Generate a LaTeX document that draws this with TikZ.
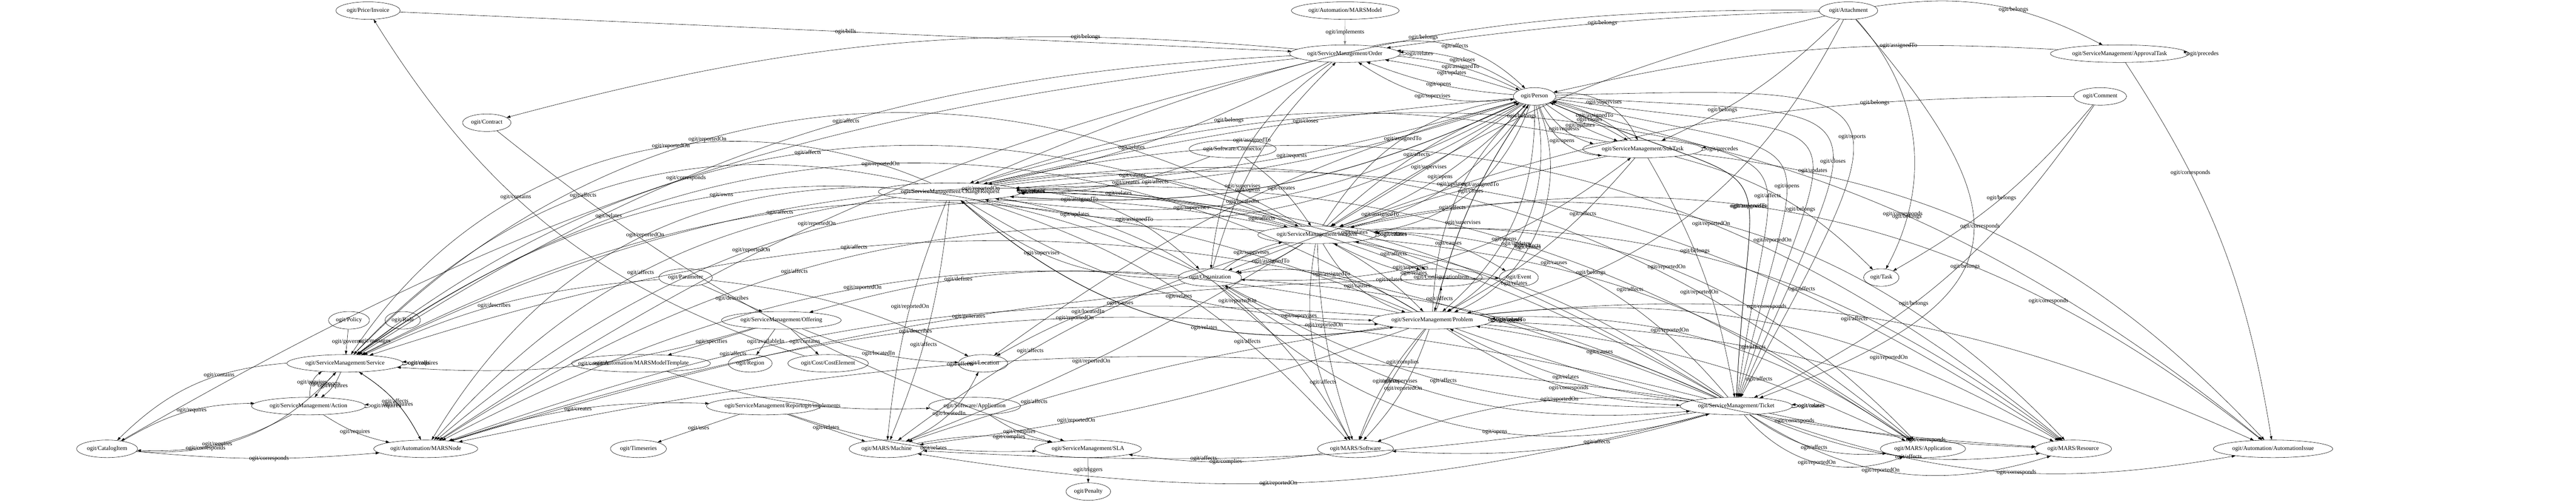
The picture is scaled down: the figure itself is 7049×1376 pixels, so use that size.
\documentclass[tikz,border=0pt]{standalone}
\usepackage{fontspec}
\setmainfont{Liberation Serif}
\usetikzlibrary{shapes.geometric,arrows.meta}

\tikzset{every picture/.style={line width=0.16pt}}
\tikzset{
  onode/.style={draw, ellipse, inner xsep=0.8pt, inner ysep=0pt, minimum height=9.6pt, font=\fontsize{3.25}{3.8}\selectfont},
  lbl/.style={inner sep=0.3pt, font=\fontsize{3.25}{3.8}\selectfont},
  every edge/.style={draw, line width=0.16pt, -{Triangle[length=2pt,width=1.35pt]}},
  every loop/.style={min distance=4.3pt, looseness=6},
}

\begin{document}
\begin{tikzpicture}[x=0.2pt,y=0.2pt,yscale=-1,xscale=1]
\path [use as bounding box, fill=white] (0,0) rectangle (7049,1376);

% Text Node
\draw (1007,29) node [onode] (inv) {ogit/Price/Invoice};
\draw (3681,29) node [onode] (mmodel) {ogit/Automation/MARSModel};
\draw (5058,29) node [onode] (attach) {ogit/Attachment};
\draw (3680,147) node [onode] (order) {ogit/ServiceManagement/Order};
\draw (5800,147) node [onode] (appr) {ogit/ServiceManagement/ApprovalTask};
\draw (4199,264) node [onode] (person) {ogit/Person};
\draw (5747,264) node [onode] (comment) {ogit/Comment};
\draw (1332,336) node [onode] (contract) {ogit/Contract};
\draw (3373,408) node [onode] (connector) {ogit/Software/Connector};
\draw (4495,408) node [onode] (subtask) {ogit/ServiceManagement/SubTask};
\draw (2600,525) node [onode] (change) {ogit/ServiceManagement/ChangeRequest};
\draw (3604,643) node [onode] (incident) {ogit/ServiceManagement/Incident};
\draw (1876,760) node [onode] (param) {ogit/Parameter};
\draw (3311,760) node [onode] (org) {ogit/Organization};
\draw (3944,760) node [onode] (ci) {ogit/ConfigurationItem};
\draw (4156,760) node [onode] (event) {ogit/Event};
\draw (5148,760) node [onode] (task) {ogit/Task};
\draw (955,877) node [onode] (policy) {ogit/Policy};
\draw (1102,877) node [onode] (role) {ogit/Role};
\draw (2138,877) node [onode] (offering) {ogit/ServiceManagement/Offering};
\draw (3919,877) node [onode] (problem) {ogit/ServiceManagement/Problem};
\draw (944,995) node [onode] (service) {ogit/ServiceManagement/Service};
\draw (1754,995) node [onode] (mtemplate) {ogit/Automation/MARSModelTemplate};
\draw (2053,995) node [onode] (region) {ogit/Region};
\draw (2266,995) node [onode] (cost) {ogit/Cost/CostElement};
\draw (2690,995) node [onode] (location) {ogit/Location};
\draw (844,1112) node [onode] (action) {ogit/ServiceManagement/Action};
\draw (2089,1112) node [onode] (report) {ogit/ServiceManagement/Report};
\draw (2667,1112) node [onode] (swapp) {ogit/Software/Application};
\draw (4751,1112) node [onode] (ticket) {ogit/ServiceManagement/Ticket};
\draw (293,1229) node [onode] (catalog) {ogit/CatalogItem};
\draw (1165,1229) node [onode] (mnode) {ogit/Automation/MARSNode};
\draw (1747,1229) node [onode] (timeseries) {ogit/Timeseries};
\draw (2426,1229) node [onode] (machine) {ogit/MARS/Machine};
\draw (2977,1229) node [onode] (sla) {ogit/ServiceManagement/SLA};
\draw (3709,1229) node [onode] (software) {ogit/MARS/Software};
\draw (5262,1229) node [onode] (application) {ogit/MARS/Application};
\draw (5673,1229) node [onode] (resource) {ogit/MARS/Resource};
\draw (6220,1229) node [onode] (issue) {ogit/Automation/AutomationIssue};
\draw (2978,1346) node [onode] (penalty) {ogit/Penalty};

% Order, attachments, comments
\draw (inv) edge node [lbl] {ogit/bills} (order);
\draw (mmodel) edge [draw=gray] node [lbl] {ogit/implements} (order);
\draw (attach) edge [bend left=3] node [lbl] {ogit/belongs} (order)
  edge [bend right=18] node [lbl, pos=0.6] {ogit/belongs} (appr)
  edge [bend right=10] node [lbl, pos=0.7] {ogit/belongs} (subtask)
  edge [bend left=12] node [lbl, pos=0.45] {ogit/belongs} (change)
  edge [bend left=10] node [lbl, pos=0.6] {ogit/belongs} (incident)
  edge [bend right=25] node [lbl, pos=0.75] {ogit/belongs} (problem)
  edge [bend right=55, looseness=1.8] node [lbl, pos=0.55] {ogit/belongs} (ticket)
  edge [bend right=35] node [lbl, pos=0.8] {ogit/belongs} (task);
\draw (appr) edge [loop right] node [lbl, anchor=west] {ogit/precedes} (appr)
  edge [bend left=8] node [lbl, pos=0.3] {ogit/assignedTo} (person)
  edge [bend right=12] node [lbl, pos=0.3] {ogit/corresponds} (issue);
\draw (comment) edge [bend left=10] node [lbl, pos=0.25] {ogit/belongs} (incident)
  edge [bend right=15] node [lbl, pos=0.6] {ogit/belongs} (ticket)
  edge [bend right=10] node [lbl, pos=0.5] {ogit/belongs} (task);
\draw (order) edge [loop right] node [lbl, anchor=west] {ogit/relates} (order)
  edge [bend left=10] node [lbl, pos=0.25] {ogit/belongs} (contract)
  edge [bend left=15] node [lbl, pos=0.45] {ogit/affects} (service)
  edge [bend left=12] node [lbl, pos=0.5] {ogit/corresponds} (catalog)
  edge [bend left=10] node [lbl, pos=0.55] {ogit/reportedOn} (mnode)
  edge [bend right=8] node [lbl, pos=0.6] {ogit/relates} (change);

% Person
\draw (person) edge [bend right=20] node [lbl] {ogit/supervises} (order)
  edge [bend right=8] node [lbl] {ogit/opens} (order)
  edge [bend left=4] node [lbl] {ogit/updates} (order)
  edge [bend left=16] node [lbl] {ogit/closes} (order);
\draw (order) edge [bend right=10] node [lbl] {ogit/assignedTo} (person)
  edge [bend right=28] node [lbl] {ogit/affects} (person);
\draw (person) edge [bend left=35] node [lbl] {ogit/opens} (subtask)
  edge [bend left=20] node [lbl] {ogit/requests} (subtask)
  edge [bend left=8] node [lbl] {ogit/updates} (subtask)
  edge [bend right=4] node [lbl] {ogit/closes} (subtask)
  edge [bend right=35] node [lbl] {ogit/supervises} (subtask);
\draw (subtask) edge [bend left=12] node [lbl] {ogit/assignedTo} (person)
  edge [loop right] node [lbl, anchor=west] {ogit/precedes} (subtask);
\draw (person) edge [bend right=22] node [lbl, pos=0.85] {ogit/updates} (change)
  edge [bend right=14] node [lbl, pos=0.55] {ogit/opens} (change)
  edge [bend right=6] node [lbl, pos=0.45] {ogit/requests} (change)
  edge [bend left=4] node [lbl, pos=0.38] {ogit/closes} (change)
  edge [bend right=18] node [lbl, pos=0.65] {ogit/supervises} (change);
\draw (change) edge [bend left=14] node [lbl, pos=0.12] {ogit/assignedTo} (person)
  edge [bend left=8] node [lbl, pos=0.25] {ogit/affects} (person);
\draw (person) edge [bend right=2] node [lbl] {ogit/supervises} (incident)
  edge [bend right=12] node [lbl] {ogit/opens} (incident)
  edge [bend right=20] node [lbl] {ogit/updates} (incident)
  edge [bend right=30] node [lbl] {ogit/closes} (incident);
\draw (incident) edge [bend right=10] node [lbl] {ogit/affects} (person)
  edge [bend right=25] node [lbl] {ogit/assignedTo} (person);
\draw (person) edge [bend right=25] node [lbl, pos=0.6] {ogit/opens} (problem)
  edge [bend right=35] node [lbl, pos=0.6] {ogit/updates} (problem)
  edge [bend right=45] node [lbl, pos=0.6] {ogit/closes} (problem)
  edge [bend left=10] node [lbl, pos=0.6] {ogit/supervises} (problem);
\draw (problem) edge [bend right=10] node [lbl, pos=0.6] {ogit/assignedTo} (person)
  edge [bend right=22] node [lbl, pos=0.45] {ogit/affects} (person);
\draw (person) edge [bend right=45, looseness=2.2] node [lbl, pos=0.6] {ogit/opens} (ticket)
  edge [bend right=50, looseness=2.4] node [lbl, pos=0.6] {ogit/updates} (ticket)
  edge [bend right=55, looseness=2.5] node [lbl, pos=0.6] {ogit/closes} (ticket)
  edge [bend right=60, looseness=2.6] node [lbl, pos=0.55] {ogit/reports} (ticket)
  edge [bend right=35, looseness=2] node [lbl, pos=0.6] {ogit/supervises} (ticket)
  edge [bend left=10] node [lbl, pos=0.5] {ogit/locatedIn} (location);
\draw (ticket) edge [bend left=35, looseness=2] node [lbl, pos=0.4] {ogit/assignedTo} (person)
  edge [bend left=40, looseness=2.1] node [lbl, pos=0.4] {ogit/affects} (person);

% Organization
\draw (org) edge [bend right=15] node [lbl, pos=0.35] {ogit/supervises} (order)
  edge [bend left=20] node [lbl, pos=0.4] {ogit/supervises} (subtask)
  edge [bend right=20] node [lbl, pos=0.6] {ogit/supervises} (change)
  edge [bend right=10] node [lbl] {ogit/supervises} (incident)
  edge [bend left=15] node [lbl] {ogit/supervises} (problem)
  edge [bend left=20] node [lbl, pos=0.4] {ogit/supervises} (ticket)
  edge [bend left=30] node [lbl, pos=0.6] {ogit/opens} (ticket)
  edge [bend left=10] node [lbl, pos=0.6] {ogit/defines} (offering)
  edge [bend left=30] node [lbl, pos=0.55] {ogit/owns} (service)
  edge [bend left=8] node [lbl, pos=0.5] {ogit/locatedIn} (location);
\draw (order) edge [bend left=25] node [lbl, pos=0.45] {ogit/assignedTo} (org);
\draw (subtask) edge [bend left=5] node [lbl, pos=0.6] {ogit/assignedTo} (org);
\draw (change) edge [bend right=20] node [lbl, pos=0.6] {ogit/assignedTo} (org);
\draw (incident) edge [bend right=10] node [lbl] {ogit/assignedTo} (org);
\draw (problem) edge [bend left=20] node [lbl] {ogit/assignedTo} (org);
\draw (ticket) edge [bend left=10] node [lbl, pos=0.45] {ogit/assignedTo} (org)
  edge [bend right=15] node [lbl, pos=0.5] {ogit/affects} (org);

% Tickets among themselves
\draw (change) edge [loop right] node [lbl, anchor=west] {ogit/relates} (change)
  edge [loop right] node [lbl, anchor=west] {ogit/causes} (change)
  edge [bend right=8] node [lbl, pos=0.35] {ogit/relates} (incident)
  edge [bend right=18] node [lbl, pos=0.45] {ogit/causes} (incident)
  edge [bend left=15] node [lbl, pos=0.55] {ogit/relates} (problem)
  edge [bend left=25] node [lbl, pos=0.4] {ogit/causes} (problem)
  edge [bend right=10] node [lbl, pos=0.6] {ogit/affects} (ci);
\draw (incident) edge [loop right] node [lbl, anchor=west] {ogit/relates} (incident)
  edge [loop right] node [lbl, anchor=west] {ogit/causes} (incident)
  edge [bend left=20] node [lbl, pos=0.5] {ogit/causes} (problem)
  edge [bend right=8] node [lbl, pos=0.6] {ogit/relates} (problem)
  edge [bend right=8] node [lbl, pos=0.55] {ogit/affects} (ci)
  edge [bend right=15] node [lbl, pos=0.55] {ogit/causes} (event);
\draw (problem) edge [loop right] node [lbl, anchor=west] {ogit/relates} (problem)
  edge [loop right] node [lbl, anchor=west] {ogit/causes} (problem)
  edge [bend left=10] node [lbl, pos=0.5] {ogit/affects} (ci)
  edge [bend right=25] node [lbl, pos=0.4] {ogit/relates} (change);
\draw (ticket) edge [loop right] node [lbl, anchor=west] {ogit/relates} (ticket)
  edge [loop right] node [lbl, anchor=west] {ogit/causes} (ticket)
  edge [bend left=12] node [lbl, pos=0.6] {ogit/relates} (incident)
  edge [bend left=25] node [lbl, pos=0.55] {ogit/causes} (incident)
  edge [bend right=10] node [lbl, pos=0.5] {ogit/relates} (problem)
  edge [bend left=8] node [lbl, pos=0.5] {ogit/causes} (problem)
  edge [bend left=15] node [lbl, pos=0.55] {ogit/relates} (change);
\draw (event) edge [bend right=15] node [lbl, pos=0.5] {ogit/relates} (incident);
\draw (connector) edge [bend right=10] node [lbl, pos=0.45] {ogit/creates} (change)
  edge [bend right=10] node [lbl, pos=0.5] {ogit/creates} (incident);
\draw (subtask) edge [bend left=15] node [lbl, pos=0.6] {ogit/belongs} (change)
  edge [bend right=10] node [lbl, pos=0.4] {ogit/belongs} (ticket)
  edge [bend right=15] node [lbl, pos=0.6] {ogit/belongs} (task)
  edge [bend right=10] node [lbl, pos=0.3] {ogit/affects} (problem)
  edge [bend right=20] node [lbl, pos=0.45] {ogit/corresponds} (issue);

% Tickets to resources
\draw (change) edge [bend left=30] node [lbl, pos=0.55] {ogit/affects} (service)
  edge [bend left=40] node [lbl, pos=0.4] {ogit/reportedOn} (service)
  edge [bend left=20] node [lbl, pos=0.5] {ogit/affects} (mnode)
  edge [bend left=30] node [lbl, pos=0.45] {ogit/reportedOn} (mnode)
  edge [bend right=8] node [lbl, pos=0.6] {ogit/affects} (machine)
  edge [bend left=8] node [lbl, pos=0.45] {ogit/reportedOn} (machine)
  edge [bend right=15] node [lbl, pos=0.7] {ogit/affects} (software)
  edge [bend right=25] node [lbl, pos=0.6] {ogit/reportedOn} (software)
  edge [bend right=18] node [lbl, pos=0.55] {ogit/affects} (application)
  edge [bend right=24] node [lbl, pos=0.75] {ogit/reportedOn} (application)
  edge [bend right=20] node [lbl, pos=0.8] {ogit/affects} (resource)
  edge [bend right=26] node [lbl, pos=0.65] {ogit/reportedOn} (resource)
  edge [bend right=28] node [lbl, pos=0.7] {ogit/corresponds} (issue);
\draw (incident) edge [bend left=30] node [lbl, pos=0.5] {ogit/affects} (service)
  edge [bend left=38] node [lbl, pos=0.6] {ogit/reportedOn} (service)
  edge [bend left=18] node [lbl, pos=0.55] {ogit/affects} (mnode)
  edge [bend left=26] node [lbl, pos=0.6] {ogit/reportedOn} (mnode)
  edge [bend left=10] node [lbl, pos=0.65] {ogit/affects} (machine)
  edge [bend right=5] node [lbl, pos=0.55] {ogit/reportedOn} (machine)
  edge [bend left=20] node [lbl, pos=0.7] {ogit/affects} (software)
  edge [bend left=8] node [lbl, pos=0.4] {ogit/reportedOn} (software)
  edge [bend right=15] node [lbl, pos=0.45] {ogit/affects} (application)
  edge [bend right=25] node [lbl, pos=0.5] {ogit/reportedOn} (application)
  edge [bend right=20] node [lbl, pos=0.6] {ogit/affects} (resource)
  edge [bend right=30] node [lbl, pos=0.55] {ogit/reportedOn} (resource)
  edge [bend right=25] node [lbl, pos=0.75] {ogit/corresponds} (issue);
\draw (problem) edge [bend left=25] node [lbl, pos=0.6] {ogit/affects} (service)
  edge [bend left=33] node [lbl, pos=0.5] {ogit/reportedOn} (service)
  edge [bend left=12] node [lbl, pos=0.7] {ogit/affects} (mnode)
  edge [bend left=20] node [lbl, pos=0.55] {ogit/reportedOn} (mnode)
  edge [bend left=5] node [lbl, pos=0.75] {ogit/affects} (machine)
  edge [bend right=6] node [lbl, pos=0.7] {ogit/reportedOn} (machine)
  edge [bend left=10] node [lbl, pos=0.5] {ogit/affects} (software)
  edge [bend right=12] node [lbl, pos=0.5] {ogit/reportedOn} (software)
  edge [bend right=10] node [lbl, pos=0.65] {ogit/affects} (application)
  edge [bend right=18] node [lbl, pos=0.4] {ogit/reportedOn} (application)
  edge [bend right=10] node [lbl, pos=0.45] {ogit/affects} (resource)
  edge [bend right=18] node [lbl, pos=0.7] {ogit/reportedOn} (resource)
  edge [bend left=8] node [lbl, pos=0.6] {ogit/corresponds} (resource)
  edge [bend right=15] node [lbl, pos=0.35] {ogit/corresponds} (issue)
  edge [bend left=15] node [lbl, pos=0.55] {ogit/corresponds} (ticket)
  edge [bend left=5] node [lbl, pos=0.3] {ogit/complies} (software);
\draw (ticket) edge [bend left=20] node [lbl, pos=0.65] {ogit/affects} (service)
  edge [bend left=28] node [lbl, pos=0.55] {ogit/reportedOn} (service)
  edge [bend left=10] node [lbl, pos=0.6] {ogit/affects} (mnode)
  edge [bend left=16] node [lbl, pos=0.5] {ogit/reportedOn} (mnode)
  edge [bend right=6] node [lbl, pos=0.65] {ogit/affects} (machine)
  edge [bend right=12] node [lbl, pos=0.55] {ogit/reportedOn} (machine)
  edge [bend right=10] node [lbl, pos=0.35] {ogit/affects} (software)
  edge [bend left=12] node [lbl, pos=0.4] {ogit/reportedOn} (software)
  edge [bend left=20] node [lbl, pos=0.5] {ogit/affects} (application)
  edge [bend left=35] node [lbl, pos=0.5] {ogit/reportedOn} (application)
  edge [bend left=15] node [lbl, pos=0.55] {ogit/affects} (resource)
  edge [bend left=25] node [lbl, pos=0.45] {ogit/reportedOn} (resource)
  edge [bend left=5] node [lbl, pos=0.6] {ogit/corresponds} (resource)
  edge [bend left=15] node [lbl, pos=0.55] {ogit/corresponds} (issue);

% Service and its neighbours
\draw (policy) edge node [lbl] {ogit/governs} (service);
\draw (role) edge node [lbl] {ogit/manages} (service);
\draw (service) edge [loop right] node [lbl, anchor=west] {ogit/requires} (service)
  edge [loop right] node [lbl, anchor=west] {ogit/calls} (service)
  edge [bend left=5] node [lbl] {ogit/supports} (action)
  edge [bend right=15] node [lbl] {ogit/requires} (action)
  edge [bend left=20] node [lbl, pos=0.35] {ogit/contains} (catalog)
  edge [bend right=15] node [lbl, pos=0.55] {ogit/requires} (mnode);
\draw (action) edge [bend right=30] node [lbl] {ogit/requires} (service)
  edge [loop right] node [lbl, anchor=west] {ogit/requires} (action)
  edge [bend right=15] node [lbl] {ogit/requires} (catalog)
  edge [bend left=10] node [lbl] {ogit/requires} (mnode);
\draw (catalog) edge [bend right=15] node [lbl, pos=0.55] {ogit/requires} (action)
  edge [bend left=25] node [lbl, pos=0.3] {ogit/corresponds} (service)
  edge [bend left=5] node [lbl, pos=0.55] {ogit/corresponds} (mnode);
\draw (mnode) edge [bend left=15] node [lbl] {ogit/affects} (service)
  edge [bend right=8] node [lbl, pos=0.5] {ogit/generates} (event)
  edge [bend right=10] node [lbl, pos=0.5] {ogit/creates} (report);
\draw (param) edge node [lbl] {ogit/describes} (offering)
  edge [bend left=10] node [lbl, pos=0.55] {ogit/describes} (service)
  edge [bend right=10] node [lbl, pos=0.8] {ogit/describes} (location);
\draw (offering) edge node [lbl] {ogit/specifies} (mtemplate)
  edge node [lbl] {ogit/availableIn} (region)
  edge node [lbl] {ogit/contains} (cost)
  edge [bend left=10] node [lbl] {ogit/locatedIn} (location)
  edge [bend right=10] node [lbl, pos=0.45] {ogit/contains} (service);
\draw (cost) edge [bend right=20] node [lbl, pos=0.6] {ogit/contains} (inv);
\draw (contract) edge [bend left=10] node [lbl, pos=0.2] {ogit/relates} (sla);
\draw (mtemplate) edge [bend left=10] node [lbl, pos=0.6] {ogit/implements} (swapp);
\draw (report) edge node [lbl] {ogit/relates} (machine)
  edge node [lbl] {ogit/uses} (timeseries)
  edge [bend left=10] node [lbl, pos=0.6] {ogit/relates} (sla);
\draw (swapp) edge [bend left=10] node [lbl] {ogit/complies} (sla);
\draw (machine) edge [bend right=10] node [lbl, pos=0.7] {ogit/complies} (sla)
  edge [bend left=20] node [lbl, pos=0.5] {ogit/locatedIn} (location);
\draw (software) edge [bend right=8] node [lbl, pos=0.5] {ogit/complies} (sla);
\draw (sla) edge node [lbl] {ogit/triggers} (penalty);

\end{tikzpicture}
\end{document}
